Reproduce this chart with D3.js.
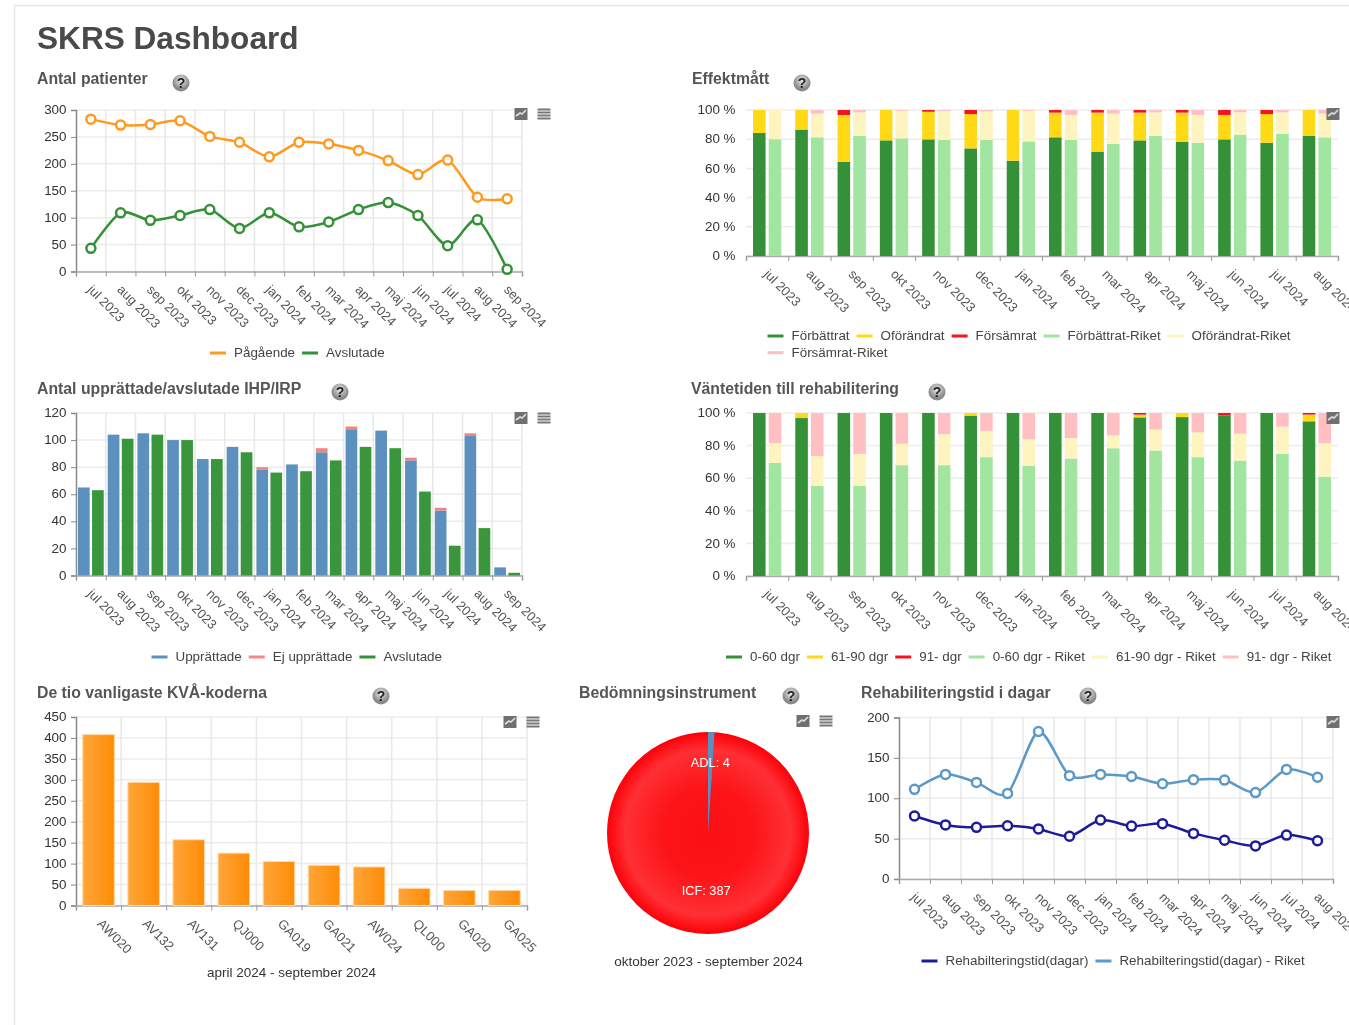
<!DOCTYPE html>
<html lang="sv">
<head>
<meta charset="utf-8">
<title>SKRS Dashboard</title>
<script src="https://cdn.jsdelivr.net/npm/d3@7"></script>
<style>
html, body { margin: 0; padding: 0; background: #fff; overflow: hidden; }
svg { display: block; filter: blur(0.5px); }
text { font-family: "Liberation Sans", Arial, sans-serif; }
</style>
</head>
<body>
<div id="dashboard"></div>
<script>
var months = ["jul 2023", "aug 2023", "sep 2023", "okt 2023", "nov 2023", "dec 2023", "jan 2024", "feb 2024",
    "mar 2024", "apr 2024", "maj 2024", "jun 2024", "jul 2024", "aug 2024", "sep 2024"];
var months14 = months.slice(0, 14);

// Antal patienter
var pagaende = [283, 272, 273, 280, 251, 240, 213, 240, 237, 225, 206, 180, 207, 138, 135];
var avslutade = [43, 109, 95, 104, 115, 80, 109, 83, 92, 115, 128, 104, 48, 96, 4];

// Effektmått
var forbattrat = [84.3, 86.6, 64.6, 79.2, 79.9, 73.7, 65.3, 81.3, 71.5, 79.2, 78.3, 79.9, 77.6, 82.2];
var oforandrat = [15.7, 13.4, 32, 20.8, 18.9, 23.5, 34.7, 16.9, 26.7, 19, 19.9, 16.7, 19.6, 17.8];
var forsamrat = [0, 0, 3.4, 0, 1.2, 2.8, 0, 1.8, 1.8, 1.8, 1.8, 3.4, 2.8, 0];
var forbattratRiket = [80, 81.3, 82.4, 80.6, 79.5, 79.5, 78.5, 79.5, 76.7, 82.4, 77.6, 83.1, 83.8, 81.3];
var oforandratRiket = [20, 16.2, 16, 18.9, 19.8, 19.5, 21, 17.1, 20.8, 16, 19, 15.3, 14.6, 16.2];
var forsamratRiket = [0, 2.5, 1.6, 0.5, 0.7, 1, 0.5, 3.4, 2.5, 1.6, 3.4, 1.6, 1.6, 2.5];

// Antal upprättade/avslutade IHP/IRP
var upprattade = [65, 104, 105, 100, 86, 95, 78, 82, 91, 108, 107, 85, 48, 103, 6];
var ejUpprattade = [0, 0, 0, 0, 0, 0, 2, 0, 3, 2, 0, 2, 2, 2, 0];
var ihpAvslutade = [63, 101, 104, 100, 86, 91, 76, 77, 85, 95, 94, 62, 22, 35, 2];

// Väntetiden till rehabilitering
var dgr060 = [100, 96.9, 100, 100, 100, 98.4, 100, 100, 100, 97.3, 97.5, 98.4, 100, 94.9];
var dgr6190 = [0, 3.1, 0, 0, 0, 1.6, 0, 0, 0, 1.7, 2.5, 0, 0, 4.1];
var dgr91 = [0, 0, 0, 0, 0, 0, 0, 0, 0, 1, 0, 1.6, 0, 1];
var dgr060Riket = [69.4, 55.4, 55.4, 68, 68, 72.9, 67.6, 72.1, 78.4, 77, 72.9, 70.8, 75, 61];
var dgr6190Riket = [12.1, 18.1, 19.5, 13.1, 19, 16.1, 16.2, 12.5, 8, 12.9, 15.2, 16.5, 16.6, 20.5];
var dgr91Riket = [18.5, 26.5, 25.1, 18.9, 13, 11, 16.2, 15.4, 13.6, 10.1, 11.9, 12.7, 8.4, 18.5];

// De tio vanligaste KVÅ-koderna
var kvaCodes = ["AW020", "AV132", "AV131", "QJ000", "GA019", "GA021", "AW024", "QL000", "GA020", "GA025"];
var kvaCounts = [408, 294, 157, 125, 105, 96, 92, 41, 36, 36];

// Bedömningsinstrument
var instrumentNames = ["ADL", "ICF"];
var instrumentCounts = [4, 387];

// Rehabiliteringstid i dagar
var rehabTid = [78, 67, 64, 66, 62, 53, 73, 65.5, 68.5, 56.5, 48, 41, 54.4, 47.4];
var rehabTidRiket = [111, 129.5, 119.6, 106, 182.7, 128, 129.5, 127, 118, 123, 122.5, 107, 135.7, 126];

var green = "#349138", yellow = "#ffd816", red = "#f5141c";
var greenLight = "#a2e5a0", yellowLight = "#fdf4bf", redLight = "#ffbfc3";
var blue = "#5b90bf", orange = "#ff9a1e", navy = "#1c1c98";

var svg = d3.select("#dashboard").append("svg").attr("width", 1349).attr("height", 1025);
var defs = svg.append("defs");

var orangeGrad = defs.append("linearGradient").attr("id", "orangeBar");
orangeGrad.append("stop").attr("offset", "0%").attr("stop-color", "#ffa53a");
orangeGrad.append("stop").attr("offset", "100%").attr("stop-color", "#ff8c05");

var pieGrad = defs.append("radialGradient").attr("id", "pieRed");
pieGrad.append("stop").attr("offset", "0%").attr("stop-color", "#fb1014");
pieGrad.append("stop").attr("offset", "45%").attr("stop-color", "#fc1418");
pieGrad.append("stop").attr("offset", "82%").attr("stop-color", "#ff3034");
pieGrad.append("stop").attr("offset", "100%").attr("stop-color", "#fc0008");

var helpGrad = defs.append("radialGradient").attr("id", "helpBall").attr("cy", "35%");
helpGrad.append("stop").attr("offset", "0%").attr("stop-color", "#eaeaea");
helpGrad.append("stop").attr("offset", "100%").attr("stop-color", "#8a8a8a");

// page frame and heading
svg.append("path").attr("d", "M14.5,1025V5.5H1349").attr("fill", "none").attr("stroke", "#e6e6e6").attr("stroke-width", 1.5);
svg.append("text").attr("x", 37).attr("y", 49).attr("font-size", 31.6).attr("font-weight", "bold")
    .attr("fill", "#4a4a4a").text("SKRS Dashboard");

function heading(title, x, y, helpX, helpY) {
    svg.append("text").attr("x", x).attr("y", y).attr("font-size", 15.8).attr("font-weight", "bold")
        .attr("fill", "#555").text(title);
    svg.append("circle").attr("cx", helpX).attr("cy", helpY).attr("r", 8.5).attr("fill", "url(#helpBall)");
    svg.append("text").attr("x", helpX).attr("y", helpY + 5).attr("font-size", 14).attr("font-weight", "bold")
        .attr("text-anchor", "middle").attr("fill", "#222").text("?");
}

function toolIcons(x, y, withList) {
    svg.append("rect").attr("x", x - 6.5).attr("y", y - 6).attr("width", 13).attr("height", 12).attr("fill", "#707070");
    svg.append("path").attr("d", "M" + (x - 5) + "," + (y + 2) + "L" + (x - 1) + "," + (y - 1) + "L" + (x + 1) + "," + y + "L" + (x + 5) + "," + (y - 4))
        .attr("fill", "none").attr("stroke", "#ddd").attr("stroke-width", 1.6);
    if (withList) {
        [-4.5, -1.5, 1.5, 4.5].forEach(function(d) {
            svg.append("rect").attr("x", x + 16.5).attr("y", y + d - 1).attr("width", 13).attr("height", 2).attr("fill", "#777");
        });
    }
}

function legend(items, x, y, rowX, maxX) {
    var g = svg.append("g");
    var cx = x, cy = y;
    items.forEach(function(item) {
        var label = g.append("text").attr("font-size", 13.4).attr("fill", "#444").attr("y", cy + 4).text(item.name);
        var w = label.node().getComputedTextLength();
        if (maxX && cx + 24 + w > maxX) {
            cx = rowX;
            cy += 16.7;
            label.attr("y", cy + 4);
        }
        label.attr("x", cx + 24);
        g.append("line").attr("x1", cx).attr("x2", cx + 16).attr("y1", cy).attr("y2", cy)
            .attr("stroke", item.color).attr("stroke-width", 3);
        cx += 24 + w + 7;
    });
}

// grid, axes and labels shared by all cartesian panels
function frame(opt) {
    var g = svg.append("g").attr("transform", "translate(" + opt.left + "," + opt.top + ")");
    var w = opt.width, h = opt.height;
    var x = d3.scaleBand().domain(opt.categories).range([0, w]);
    var xEdge = d3.scaleLinear().domain([0, opt.categories.length]).range([0, w]);
    var y = d3.scaleLinear().domain([0, opt.max]).range([h, 0]);

    g.append("g").selectAll("line").data(opt.yTicks).enter().append("line")
        .attr("x1", 0).attr("x2", w).attr("y1", function(d) { return y(d); }).attr("y2", function(d) { return y(d); })
        .attr("stroke", "#ececec").attr("stroke-width", 1.5);
    if (opt.vGrid) {
        g.append("g").selectAll("line").data(d3.range(1, opt.categories.length + 1)).enter().append("line")
            .attr("x1", function(d) { return xEdge(d); }).attr("x2", function(d) { return xEdge(d); })
            .attr("y1", 0).attr("y2", h).attr("stroke", "#e8e8e8").attr("stroke-width", 1.5);
    }

    var yAxis = g.append("g").call(d3.axisLeft(y).tickValues(opt.yTicks).tickSize(opt.yAxisLine ? 5 : 0)
        .tickPadding(opt.yAxisLine ? 4.5 : 10.5).tickFormat(opt.yFormat || function(d) { return d; }));
    yAxis.selectAll("text").attr("font-size", 13.4).attr("fill", "#333").attr("dy", "0.27em");
    yAxis.selectAll(".tick line").attr("stroke", "#888");
    yAxis.select(".domain").attr("stroke", opt.yAxisLine ? "#8a8a8a" : "none").attr("stroke-width", 1.5);

    var ticks = g.append("g").attr("transform", "translate(0," + h + ")")
        .call(d3.axisBottom(xEdge).tickValues(d3.range(opt.categories.length + 1)).tickSize(5).tickFormat(""));
    ticks.selectAll("line").attr("stroke", "#999");
    ticks.select(".domain").attr("stroke", "#aaa").attr("stroke-width", 1.5);

    return {
        g: g, x: x, y: y, w: w, h: h,
        labels: function(dx) {
            var axis = g.append("g").attr("transform", "translate(0," + h + ")")
                .call(d3.axisBottom(x).tickSize(0));
            axis.select(".domain").remove();
            axis.selectAll("text").attr("font-size", 13).attr("fill", "#555")
                .attr("text-anchor", "start").attr("dy", 0).attr("y", 0)
                .attr("transform", "translate(" + (dx || -4) + ",19) rotate(45)");
        }
    };
}

function lineSeries(f, values, color) {
    var line = d3.line().x(function(d, i) { return f.x(f.x.domain()[i]) + f.x.bandwidth() / 2; })
        .y(function(d) { return f.y(d); }).curve(d3.curveCardinal.tension(0.2));
    f.g.append("path").datum(values).attr("d", line).attr("fill", "none").attr("stroke", color).attr("stroke-width", 2.5);
    f.g.append("g").selectAll("circle").data(values).enter().append("circle")
        .attr("cx", function(d, i) { return f.x(f.x.domain()[i]) + f.x.bandwidth() / 2; })
        .attr("cy", function(d) { return f.y(d); }).attr("r", 4.5)
        .attr("fill", "#fff").attr("stroke", color).attr("stroke-width", 2.5);
}

// two stacks side by side per category
function stackedColumns(f, stacks, pad, inner) {
    var bw = f.x.bandwidth();
    var sub = d3.scaleBand().domain(d3.range(stacks.length)).range([pad, bw - pad]).paddingInner(inner);
    stacks.forEach(function(stack, s) {
        var series = stack.map(function(d) { return d.values; });
        var layers = d3.stack().keys(d3.range(series.length))
            .value(function(i, k) { return series[k][i]; })(d3.range(f.x.domain().length));
        layers.forEach(function(layer, k) {
            f.g.append("g").selectAll("rect").data(layer).enter().append("rect")
                .attr("x", function(d, i) { return f.x(f.x.domain()[i]) + sub(s); })
                .attr("width", sub.bandwidth())
                .attr("y", function(d) { return f.y(d[1]); })
                .attr("height", function(d) { return f.y(d[0]) - f.y(d[1]); })
                .attr("fill", stack[k].color);
        });
    });
}

// Antal patienter
heading("Antal patienter", 37, 84, 181, 83);
var patienter = frame({left: 76, top: 110, width: 446, height: 161.5, categories: months, max: 300,
    yTicks: [0, 50, 100, 150, 200, 250, 300], vGrid: true, yAxisLine: true});
lineSeries(patienter, pagaende, orange);
lineSeries(patienter, avslutade, green);
patienter.labels();
legend([{name: "Pågående", color: orange}, {name: "Avslutade", color: green}], 210, 353);
toolIcons(521, 114, true);

// Effektmått
heading("Effektmått", 692, 84, 802, 83);
var effekt = frame({left: 746, top: 110, width: 592, height: 146, categories: months14, max: 100,
    yTicks: [0, 20, 40, 60, 80, 100], yFormat: function(d) { return d + " %"; }});
stackedColumns(effekt, [
    [{values: forbattrat, color: green}, {values: oforandrat, color: yellow}, {values: forsamrat, color: red}],
    [{values: forbattratRiket, color: greenLight}, {values: oforandratRiket, color: yellowLight}, {values: forsamratRiket, color: redLight}]
], 7, 0.2);
effekt.labels();
legend([{name: "Förbättrat", color: green}, {name: "Oförändrat", color: yellow}, {name: "Försämrat", color: red},
    {name: "Förbättrat-Riket", color: greenLight}, {name: "Oförändrat-Riket", color: yellowLight},
    {name: "Försämrat-Riket", color: redLight}], 767.5, 336, 767.5, 1300);
toolIcons(1333, 114, true);

// Antal upprättade/avslutade IHP/IRP
heading("Antal upprättade/avslutade IHP/IRP", 37, 394, 340, 392);
var ihp = frame({left: 76, top: 413, width: 446, height: 162.5, categories: months, max: 120,
    yTicks: [0, 20, 40, 60, 80, 100, 120], vGrid: true, yAxisLine: true});
stackedColumns(ihp, [
    [{values: upprattade, color: blue}, {values: ejUpprattade, color: "#ee8580"}],
    [{values: ihpAvslutade, color: "#3a963d"}]
], 2, 0.17);
ihp.labels();
legend([{name: "Upprättade", color: blue}, {name: "Ej upprättade", color: "#f08a85"}, {name: "Avslutade", color: green}], 151.5, 657);
toolIcons(521, 418, true);

// Väntetiden till rehabilitering
heading("Väntetiden till rehabilitering", 691, 394, 937, 392);
var vantetid = frame({left: 746, top: 413, width: 592, height: 163, categories: months14, max: 100,
    yTicks: [0, 20, 40, 60, 80, 100], yFormat: function(d) { return d + " %"; }});
stackedColumns(vantetid, [
    [{values: dgr060, color: green}, {values: dgr6190, color: yellow}, {values: dgr91, color: red}],
    [{values: dgr060Riket, color: greenLight}, {values: dgr6190Riket, color: yellowLight}, {values: dgr91Riket, color: redLight}]
], 7, 0.2);
vantetid.labels();
legend([{name: "0-60 dgr", color: green}, {name: "61-90 dgr", color: yellow}, {name: "91- dgr", color: red},
    {name: "0-60 dgr - Riket", color: greenLight}, {name: "61-90 dgr - Riket", color: yellowLight},
    {name: "91- dgr - Riket", color: redLight}], 726, 657);
toolIcons(1333, 418, true);

// De tio vanligaste KVÅ-koderna
heading("De tio vanligaste KVÅ-koderna", 37, 698, 381, 696);
var kva = frame({left: 76, top: 717, width: 451, height: 188.5, categories: kvaCodes, max: 450,
    yTicks: [0, 50, 100, 150, 200, 250, 300, 350, 400, 450], vGrid: true, yAxisLine: true});
var kvaBars = d3.scaleBand().domain(kvaCodes).range([0, 451]).paddingInner(0.3).paddingOuter(0.15);
kva.g.append("g").selectAll("rect").data(kvaCounts).enter().append("rect")
    .attr("x", function(d, i) { return kvaBars(kvaCodes[i]); })
    .attr("width", kvaBars.bandwidth())
    .attr("y", function(d) { return kva.y(d); })
    .attr("height", function(d) { return kva.y(0) - kva.y(d); })
    .attr("fill", "url(#orangeBar)").attr("stroke", "#ffd9a8").attr("stroke-width", 1);
kva.labels(-2);
svg.append("text").attr("x", 291.5).attr("y", 977).attr("text-anchor", "middle").attr("font-size", 13.5)
    .attr("fill", "#333").text("april 2024 - september 2024");
toolIcons(510, 722, true);

// Bedömningsinstrument
heading("Bedömningsinstrument", 579, 698, 791, 696);
var pieG = svg.append("g").attr("transform", "translate(708,833)");
var pieArcs = d3.pie().sort(null)(instrumentCounts);
var arc = d3.arc().innerRadius(0).outerRadius(101);
pieG.append("circle").attr("r", 101).attr("fill", "url(#pieRed)");
pieG.append("path").datum(pieArcs[0]).attr("d", arc).attr("fill", blue);
var labelRadius = [71, 57.5];
pieG.selectAll("text").data(pieArcs).enter().append("text")
    .attr("x", function(d, i) { return d3.arc().innerRadius(labelRadius[i]).outerRadius(labelRadius[i]).centroid(d)[0]; })
    .attr("y", function(d, i) { return d3.arc().innerRadius(labelRadius[i]).outerRadius(labelRadius[i]).centroid(d)[1] + 4.5; })
    .attr("text-anchor", "middle").attr("font-size", 12.8).attr("fill", "#fff")
    .text(function(d, i) { return instrumentNames[i] + ": " + instrumentCounts[i]; });
svg.append("text").attr("x", 708.5).attr("y", 966).attr("text-anchor", "middle").attr("font-size", 13.5)
    .attr("fill", "#333").text("oktober 2023 - september 2024");
toolIcons(803, 721, true);

// Rehabiliteringstid i dagar
heading("Rehabiliteringstid i dagar", 861, 698, 1088, 696);
var rehab = frame({left: 899, top: 717.5, width: 434, height: 161.5, categories: months14, max: 200,
    yTicks: [0, 50, 100, 150, 200], vGrid: true, yAxisLine: true});
lineSeries(rehab, rehabTid, navy);
lineSeries(rehab, rehabTidRiket, "#5c99c6");
rehab.labels();
legend([{name: "Rehabilteringstid(dagar)", color: navy}, {name: "Rehabilteringstid(dagar) - Riket", color: "#5c99c6"}], 921.5, 961);
toolIcons(1333, 722, true);
</script>
</body>
</html>
